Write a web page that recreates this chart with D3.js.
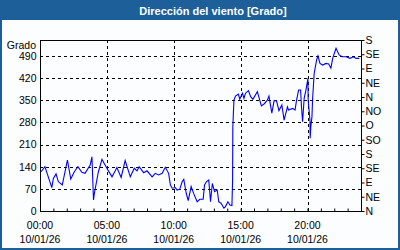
<!DOCTYPE html>
<html>
<head>
<meta charset="utf-8">
<script src="https://cdn.jsdelivr.net/npm/d3@7"></script>
<style>
  body { margin: 0; background: #fff; }
  svg { display: block; }
  text { font-family: "Liberation Sans", Arial, sans-serif; }
</style>
</head>
<body>
<div id="chart"></div>
<script>
// readings, time of day and direction in degrees (unwrapped, so it can run past 360)
var times = ["00:05","00:22","00:53","01:00","01:12","01:22","01:40","02:03","02:18","02:34",
  "02:50","03:08","03:22","03:45","03:53","04:00","04:04","04:22","04:38","04:52",
  "05:05","05:23","05:37","05:45","06:04","06:22","06:45","07:03","07:15","07:25",
  "07:45","08:00","08:23","08:37","08:52","09:08","09:22","09:37","09:45","09:53",
  "10:07","10:15","10:27","10:38","10:45","10:56","11:05","11:18","11:30","11:45",
  "11:57","12:12","12:18","12:27","12:37","12:45","12:53","13:03","13:15","13:22",
  "13:33","13:45","13:52","14:03","14:12","14:21","14:24","14:25","14:30","14:37",
  "14:50","14:56","15:08","15:15","15:22","15:35","15:45","15:55","16:15","16:33",
  "16:45","17:00","17:07","17:20","17:30","17:41","17:52","18:05","18:15","18:30",
  "18:35","18:53","19:04","19:11","19:20","19:29","19:33","19:38","19:45","19:53",
  "19:57","20:02","20:03","20:11","20:12","20:15","20:20","20:23","20:30","20:41",
  "20:47","20:56","21:08","21:23","21:35","21:45","21:53","22:08","22:22","22:35",
  "22:53","23:11","23:26","23:38","23:52"];
var grados = [124,140,74,103,117,93,82,161,101,124,
  140,122,119,145,171,35,56,124,163,145,
  129,108,126,137,106,159,108,135,127,140,
  121,127,108,119,114,119,138,119,82,72,
  74,66,69,93,100,56,33,77,54,29,
  37,37,82,93,98,29,87,61,66,29,
  24,9,14,29,19,17,98,266,350,363,
  369,353,372,356,372,380,361,353,377,332,
  338,350,363,309,348,348,317,335,287,329,
  319,324,319,350,382,382,329,282,356,382,
  398,419,350,287,230,266,298,356,435,477,
  490,466,461,466,464,451,482,514,493,487,
  487,482,487,482,482];

var leftTicks = [0, 70, 140, 210, 280, 350, 420, 490];
var rumbos = ["N","NE","E","SE","S","SO","O","NO","N","NE","E","SE","S"];
var rumboTicks = rumbos.map(function (r, i) { return i * 45; });
var hourTicks = [0, 5, 10, 15, 20];
var fecha = "10/01/26";
var titulo = "Dirección del viento [Grado]";

var W = 400, H = 250;
var margin = { top: 40, right: 39, bottom: 39, left: 40 };
var blue = "#1d5f98";
var fs = "10.5px";

function toHours(s) {
    var p = s.split(":");
    return +p[0] + p[1] / 60;
}

var data = times.map(function (t, i) { return { h: toHours(t), v: grados[i] }; });

var svg = d3.select("#chart").append("svg")
    .attr("width", W)
    .attr("height", H);

// frame + title bar
svg.append("rect").attr("x", 0).attr("y", 0).attr("width", W).attr("height", H).attr("fill", blue);
svg.append("rect").attr("x", 2).attr("y", 20).attr("width", W - 4).attr("height", H - 22).attr("fill", "#fcfdfe");
svg.append("text")
    .attr("x", 213).attr("y", 14.5)
    .attr("text-anchor", "middle")
    .attr("fill", "#fff")
    .attr("font-weight", "bold")
    .attr("font-size", "11px")
    .text(titulo);

var x = d3.scaleLinear().domain([0, 24]).range([margin.left, W - margin.right]);
var y = d3.scaleLinear().domain([0, 540]).range([H - margin.bottom, margin.top]);

// grid
var grid = svg.append("g").attr("stroke", "#000").attr("stroke-dasharray", "3,3").attr("shape-rendering", "crispEdges");
grid.selectAll(".hg").data(leftTicks.slice(1)).enter().append("line")
    .attr("x1", x(0)).attr("x2", x(24))
    .attr("y1", function (d) { return Math.round(y(d)) + 0.5; })
    .attr("y2", function (d) { return Math.round(y(d)) + 0.5; });
grid.selectAll(".vg").data(hourTicks.slice(1)).enter().append("line")
    .attr("y1", y(540)).attr("y2", y(0))
    .attr("x1", function (d) { return Math.round(x(d)) + 0.5; })
    .attr("x2", function (d) { return Math.round(x(d)) + 0.5; });

// left axis, labels only
var yAxis = svg.append("g")
    .attr("transform", "translate(" + (margin.left + 0.5) + ",0)")
    .call(d3.axisLeft(y).tickValues(leftTicks).tickSize(0).tickPadding(4));
yAxis.select(".domain").remove();
yAxis.selectAll("text").attr("font-size", fs).attr("fill", "#000").style("font-family", "Liberation Sans, Arial, sans-serif");

svg.append("text")
    .attr("x", 36).attr("y", 49)
    .attr("text-anchor", "end")
    .attr("font-size", fs)
    .text("Grado");

// right axis with compass points
var rAxis = svg.append("g")
    .attr("transform", "translate(" + (Math.round(x(24)) + 0.5) + ",0)")
    .call(d3.axisRight(y).tickValues(rumboTicks).tickSize(3).tickPadding(1)
        .tickFormat(function (d, i) { return rumbos[i]; }));
rAxis.select(".domain").remove();
rAxis.selectAll("text").attr("font-size", fs).attr("fill", "#000").style("font-family", "Liberation Sans, Arial, sans-serif");

// bottom axis, hourly inner ticks
var xAxis = svg.append("g")
    .attr("transform", "translate(0," + (Math.round(y(0)) + 0.5) + ")")
    .call(d3.axisBottom(x).tickValues(d3.range(0, 25)).tickSize(-3).tickFormat(""));
xAxis.select(".domain").remove();

var lbl = svg.append("g").attr("font-size", fs).attr("text-anchor", "middle");
lbl.selectAll(".hr").data(hourTicks).enter().append("text")
    .attr("x", function (d) { return x(d); })
    .attr("y", 229)
    .text(function (d) { return d3.format("02d")(d) + ":00"; });
lbl.selectAll(".dt").data(hourTicks).enter().append("text")
    .attr("x", function (d) { return x(d); })
    .attr("y", 243)
    .text(fecha);

// plot frame
svg.append("rect")
    .attr("x", Math.round(x(0)) + 0.5).attr("y", Math.round(y(540)) + 0.5)
    .attr("width", Math.round(x(24)) - Math.round(x(0)))
    .attr("height", Math.round(y(0)) - Math.round(y(540)))
    .attr("fill", "none").attr("stroke", "#000").attr("shape-rendering", "crispEdges");

// the series
var line = d3.line()
    .x(function (d) { return x(d.h); })
    .y(function (d) { return y(d.v); });

svg.append("path")
    .datum(data)
    .attr("fill", "none")
    .attr("stroke", "#0000ff")
    .attr("stroke-width", 1.1)
    .attr("d", line);
</script>
</body>
</html>
